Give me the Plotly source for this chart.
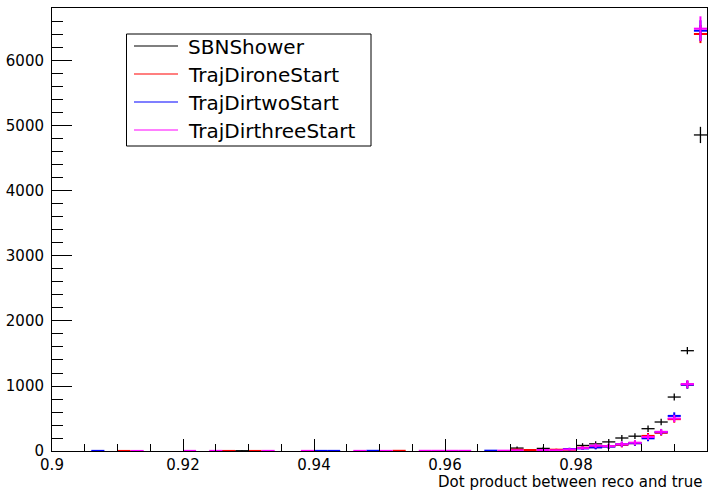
import plotly.graph_objects as go

# Histogram contents: bin centres (bin width 0.002), counts and error half-heights
bin_half_width = 0.001

sbn_x = [0.927, 0.929, 0.971, 0.975, 0.981, 0.983, 0.985, 0.987, 0.989, 0.991, 0.993, 0.995, 0.997, 0.999]
sbn_y = [4, 4, 45, 40, 85, 110, 140, 200, 228, 343, 446, 830, 1543, 4862]
sbn_err = [3, 3, 25, 25, 35, 40, 45, 45, 45, 50, 50, 55, 55, 125]

one_x = [0.911, 0.927, 0.931, 0.953, 0.971, 0.973, 0.977, 0.979, 0.981, 0.983, 0.985, 0.987, 0.989, 0.991, 0.993, 0.995, 0.997, 0.999]
one_y = [1, 1, 1, 3, 20, 15, 20, 20, 50, 60, 72, 95, 120, 232, 280, 490, 1022, 6415]
one_err = [3, 3, 3, 5, 15, 12, 15, 15, 25, 30, 35, 40, 40, 45, 45, 55, 60, 140]

two_x = [0.907, 0.941, 0.943, 0.949, 0.967, 0.979, 0.981, 0.983, 0.985, 0.987, 0.989, 0.991, 0.993, 0.995, 0.997, 0.999]
two_y = [2, 2, 2, 3, 5, 30, 40, 55, 68, 103, 120, 195, 290, 540, 1020, 6466]
two_err = [3, 3, 3, 4, 6, 20, 25, 30, 35, 40, 40, 45, 45, 55, 60, 160]

three_x = [0.913, 0.921, 0.925, 0.933, 0.939, 0.947, 0.951, 0.957, 0.959, 0.961, 0.963, 0.969, 0.971, 0.975, 0.977,
           0.979, 0.981, 0.983, 0.985, 0.987, 0.989, 0.991, 0.993, 0.995, 0.997, 0.999]
three_y = [1, 2, 2, 2, 2, 2, 2, 3, 3, 3, 3, 5, 10, 15, 10, 25, 45, 82, 75, 105, 128, 215, 295, 500, 1030, 6497]
three_err = [3, 3, 3, 3, 3, 3, 3, 4, 4, 4, 4, 6, 10, 12, 10, 18, 25, 35, 35, 40, 40, 45, 45, 55, 60, 190]

series = [
    ("SBNShower", sbn_x, sbn_y, sbn_err, "#000000", 1.3),
    ("TrajDironeStart", one_x, one_y, one_err, "#ff0000", 2),
    ("TrajDirtwoStart", two_x, two_y, two_err, "#0000ff", 2),
    ("TrajDirthreeStart", three_x, three_y, three_err, "#ff00ff", 2),
]

x_range = [0.9, 1.0]
y_range = [0, 6815]

FONT = "DejaVu Sans"

fig = go.Figure()
for name, xs, ys, errs, color, thick in series:
    fig.add_trace(go.Scatter(
        x=xs, y=ys, name=name, mode="markers",
        marker=dict(size=1, color=color, opacity=0),
        error_x=dict(type="constant", value=bin_half_width, color=color, thickness=thick, width=0),
        error_y=dict(type="data", array=errs, color=color, thickness=thick, width=0),
        showlegend=False,
    ))

# plot area in pixels
L, R, T, B = 52, 707, 8, 451
W, H = 711, 490


def px_x(p):
    return (p - L) / (R - L)


def px_y(p):
    return (B - p) / (B - T)


# legend box drawn by hand
shapes = [dict(type="rect", xref="paper", yref="paper",
               x0=px_x(126.5), x1=px_x(371), y0=px_y(146), y1=px_y(34),
               line=dict(color="black", width=1), fillcolor="white", layer="above")]
annotations = []
rows = [46, 74, 102, 130]
for (name, _, _, _, color, _), ry in zip(series, rows):
    shapes.append(dict(type="line", xref="paper", yref="paper",
                       x0=px_x(134), x1=px_x(178), y0=px_y(ry), y1=px_y(ry),
                       line=dict(color=color, width=1.2), layer="above"))
    annotations.append(dict(xref="paper", yref="paper", x=px_x(186), y=px_y(ry + 1),
                            text=name, showarrow=False, xanchor="left", yanchor="middle",
                            font=dict(family=FONT, size=20, color="black")))

# x-axis title, right aligned at the axis end
annotations.append(dict(xref="paper", yref="paper", x=px_x(705), y=px_y(482),
                        text="Dot product between reco and true", showarrow=False,
                        xanchor="right", yanchor="middle",
                        font=dict(family=FONT, size=15, color="black")))

fig.update_layout(
    width=W, height=H,
    margin=dict(l=L, r=W - R, t=T, b=H - B),
    paper_bgcolor="white", plot_bgcolor="white",
    font=dict(family=FONT, size=15, color="black"),
    shapes=shapes, annotations=annotations,
    xaxis=dict(range=x_range, dtick=0.02, tick0=0.9, ticks="inside", ticklen=12, tickwidth=1,
               tickcolor="black", showline=True, linecolor="black", linewidth=1, mirror=True,
               showgrid=False, zeroline=False, ticklabelstandoff=0,
               minor=dict(dtick=0.005, tick0=0.9, ticks="inside", ticklen=7, tickcolor="black", showgrid=False)),
    yaxis=dict(range=y_range, dtick=1000, tick0=0, ticks="inside", ticklen=20, tickwidth=1,
               tickcolor="black", showline=True, linecolor="black", linewidth=1, mirror=True,
               showgrid=False, zeroline=False, tickformat="d", ticklabelstandoff=4,
               minor=dict(dtick=200, tick0=0, ticks="inside", ticklen=11, tickcolor="black", showgrid=False)),
)

fig.write_html("out.html")
